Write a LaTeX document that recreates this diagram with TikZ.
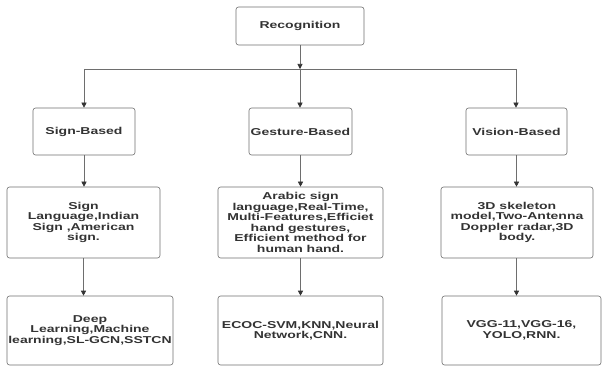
\documentclass[tikz,border=0pt]{standalone}
\usepackage{fontspec}
\setmainfont{Liberation Sans}[FakeStretch=1.4]
\usepackage{tikz}
\usetikzlibrary{
	positioning,
	arrows.meta
}
\definecolor{boxline}{HTML}{6E6E6E}
\definecolor{textgray}{HTML}{333333}

\begin{document}
\begin{tikzpicture}[
			x=1pt,y=-1pt,
			block/.style={
				draw=boxline,
				line width=0.6pt,
				rounded corners=2.5pt,
				inner sep=0pt,
				align=center,
				text=textgray,
				font=\fontsize{10}{10.5}\selectfont\bfseries
			},
			arrow/.style={-{Triangle[width=5pt,length=5pt,color=textgray]},draw=boxline,line width=0.6pt},
			link/.style={draw=boxline,line width=0.6pt}
			]
			
			\useasboundingbox (0,0) rectangle (602,366);
			
			\node[block,minimum width=128pt,minimum height=38pt] (rec) at (300,26)
			{Recognition};
			
			% second row
			\node[block,minimum width=102pt,minimum height=47pt] (sign) at (84,131.5)
			{Sign-Based};
			
			\node[block,minimum width=103pt,minimum height=47pt] (gest) at (300.5,131.5)
			{Gesture-Based};
			
			\node[block,minimum width=101pt,minimum height=47pt] (vis) at (516.5,131.5)
			{Vision-Based};
			
			% third row
			\node[block,minimum width=153pt,minimum height=71pt] (signdata) at (83.5,222.5)
			{Sign\\Language,Indian\\Sign ,American\\sign.};
			
			\node[block,minimum width=165pt,minimum height=71pt] (gestdata) at (300.5,222.5)
			{Arabic sign\\language,Real-Time,\\Multi-Features,Efficiet\\hand gestures,\\Efficient method for\\human hand.};
			
			\node[block,minimum width=152pt,minimum height=71pt] (visdata) at (517,222.5)
			{3D skeleton\\model,Two-Antenna\\Doppler radar,3D\\body.};
			
			% fourth row
			\node[block,minimum width=166pt,minimum height=69pt] (signmeth) at (90,330.5)
			{Deep\\Learning,Machine\\learning,SL-GCN,SSTCN};
			
			\node[block,minimum width=165pt,minimum height=69pt] (gestmeth) at (300.5,330.5)
			{ECOC-SVM,KNN,Neural\\Network,CNN.};
			
			\node[block,minimum width=159pt,minimum height=69pt] (vismeth) at (521.5,330.5)
			{VGG-11,VGG-16,\\YOLO,RNN.};
			
			\coordinate (split) at (300,69);
			\coordinate (splitl) at (84,69);
			\coordinate (splitr) at (516,69);
			
			\draw[arrow] (rec)--(split);
			\draw[link] (splitl)--(splitr);
			\draw[arrow] (splitl)--(sign);
			\draw[arrow] (split)--(split |- gest.north);
			\draw[arrow] (splitr)--(splitr |- vis.north);
			
			\draw[arrow] (sign)--(sign |- signdata.north);
			\draw[arrow] (gest.south)--(gest.south |- gestdata.north);
			\draw[arrow] (vis.south)--(vis.south |- visdata.north);
			
			\draw[arrow] (signdata.south)--(signdata.south |- signmeth.north);
			\draw[arrow] (gestdata.south)--(gestdata.south |- gestmeth.north);
			\draw[arrow] (vis.south |- visdata.south)--(vis.south |- vismeth.north);
			
		\end{tikzpicture}
\end{document}
